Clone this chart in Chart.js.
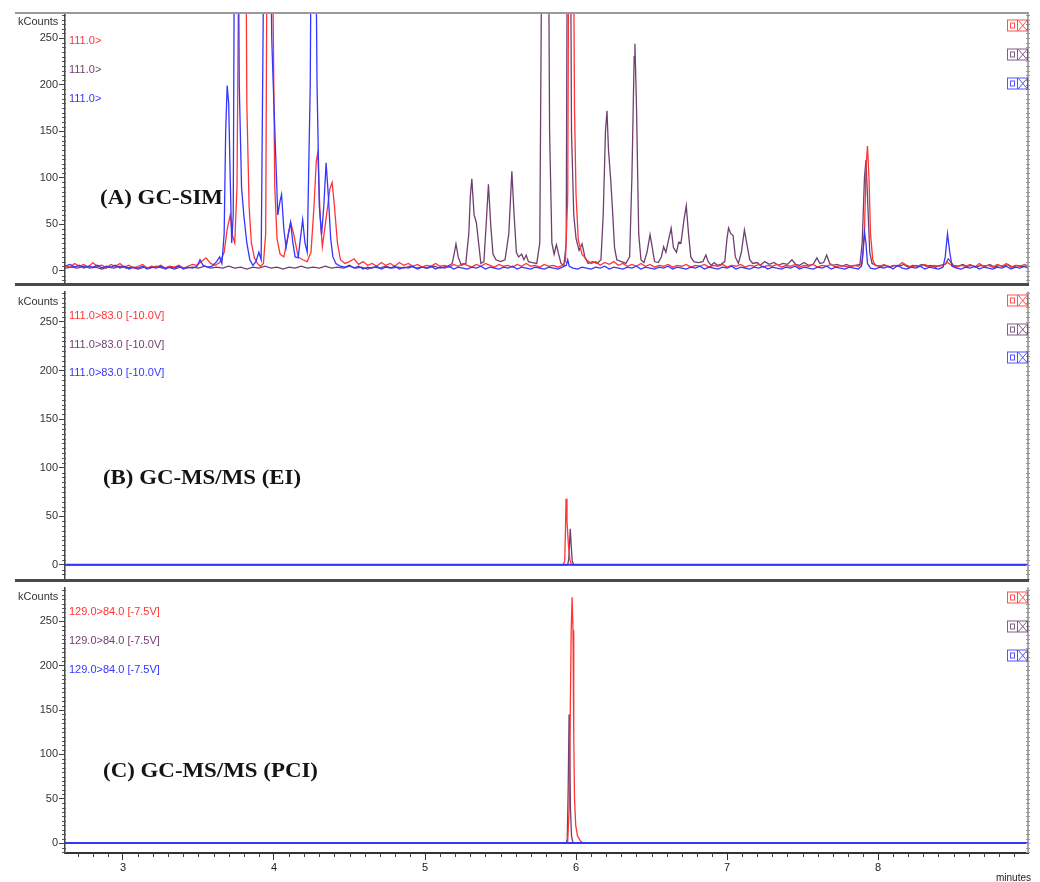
<!DOCTYPE html>
<html><head><meta charset="utf-8">
<script src="https://cdn.jsdelivr.net/npm/chart.js@4.4.1/dist/chart.umd.min.js"></script>
<style>
html,body{margin:0;padding:0;background:#fff;width:1040px;height:882px;overflow:hidden;position:relative}
canvas{position:absolute;left:0}
</style></head><body>
<canvas id="cA" width="1040" height="292" style="top:0px"></canvas>
<canvas id="cB" width="1040" height="304" style="top:284px"></canvas>
<canvas id="cC" width="1040" height="302" style="top:580px"></canvas>
<script>
// ---------- data ----------
const xTicks = [3, 4, 5, 6, 7, 8];
const yTicks = [0, 50, 100, 150, 200, 250];
const simLabels = ['111.0>', '111.0>', '111.0>'];
const eiLabels = ['111.0>83.0 [-10.0V]', '111.0>83.0 [-10.0V]', '111.0>83.0 [-10.0V]'];
const pciLabels = ['129.0>84.0 [-7.5V]', '129.0>84.0 [-7.5V]', '129.0>84.0 [-7.5V]'];
const panelTitles = ['(A) GC-SIM', '(B) GC-MS/MS (EI)', '(C) GC-MS/MS (PCI)'];

// (A) GC-SIM  [minutes, kCounts]
const simRed = [[2.616,6],[2.65,4],[2.68,8],[2.71,5],[2.74,7],[2.77,4],[2.80,9],[2.83,5],[2.86,6],[2.89,3],[2.92,7],[2.95,5],[2.98,8],[3.01,4],[3.04,6],[3.07,3],[3.10,5],[3.13,7],[3.16,3],[3.19,5],[3.22,4],[3.25,6],[3.28,3],[3.31,5],[3.34,4],[3.37,6],[3.40,3],[3.43,5],[3.46,7],[3.49,6],[3.52,10],[3.55,14],[3.58,8],[3.61,6],[3.64,9],[3.67,20],[3.69,45],[3.71,60],[3.725,38],[3.74,30],[3.755,90],[3.77,420],[3.79,650],[3.81,500],[3.82,180],[3.835,70],[3.85,30],[3.87,14],[3.89,8],[3.91,5],[3.93,8],[3.945,40],[3.955,400],[3.975,650],[3.99,350],[4.005,90],[4.02,35],[4.04,18],[4.065,15],[4.09,35],[4.11,52],[4.13,40],[4.16,15],[4.19,12],[4.22,10],[4.245,20],[4.265,70],[4.28,118],[4.29,127],[4.305,60],[4.32,26],[4.34,50],[4.37,88],[4.385,95],[4.40,70],[4.42,30],[4.44,12],[4.47,8],[4.50,10],[4.53,13],[4.56,7],[4.59,10],[4.62,6],[4.65,8],[4.68,5],[4.71,9],[4.74,6],[4.77,8],[4.80,5],[4.83,9],[4.86,6],[4.89,8],[4.92,5],[4.95,7],[4.98,4],[5.01,6],[5.04,5],[5.07,8],[5.10,5],[5.13,6],[5.16,4],[5.19,7],[5.22,5],[5.25,8],[5.28,6],[5.31,4],[5.34,7],[5.37,5],[5.40,8],[5.43,6],[5.46,4],[5.49,7],[5.52,5],[5.55,6],[5.58,4],[5.61,7],[5.64,5],[5.67,8],[5.70,5],[5.73,6],[5.76,4],[5.79,7],[5.82,5],[5.85,6],[5.88,4],[5.91,6],[5.93,10],[5.945,80],[5.955,500],[5.97,700],[5.98,450],[5.99,174],[6.00,82],[6.015,33],[6.04,18],[6.07,12],[6.10,8],[6.13,10],[6.16,6],[6.19,9],[6.22,7],[6.25,10],[6.28,6],[6.31,8],[6.34,5],[6.37,7],[6.40,5],[6.43,8],[6.46,5],[6.49,7],[6.52,4],[6.55,6],[6.58,5],[6.61,7],[6.64,4],[6.67,6],[6.70,5],[6.73,7],[6.76,4],[6.79,6],[6.82,5],[6.85,7],[6.88,4],[6.91,6],[6.94,5],[6.97,7],[7.00,4],[7.03,6],[7.06,5],[7.09,7],[7.12,4],[7.15,6],[7.18,5],[7.21,7],[7.24,4],[7.27,6],[7.30,5],[7.33,7],[7.36,4],[7.39,6],[7.42,5],[7.45,7],[7.48,4],[7.51,6],[7.54,5],[7.57,7],[7.60,4],[7.63,6],[7.66,5],[7.69,7],[7.72,4],[7.75,6],[7.78,5],[7.81,4],[7.84,6],[7.87,5],[7.895,8],[7.91,40],[7.92,110],[7.93,134],[7.94,100],[7.95,40],[7.965,12],[7.98,6],[8.01,5],[8.04,7],[8.07,4],[8.10,6],[8.13,5],[8.16,9],[8.19,6],[8.22,4],[8.25,6],[8.28,5],[8.31,7],[8.34,4],[8.37,6],[8.40,5],[8.43,6],[8.46,9],[8.49,6],[8.52,4],[8.55,6],[8.58,5],[8.61,7],[8.64,4],[8.67,8],[8.70,5],[8.73,6],[8.76,4],[8.79,7],[8.82,5],[8.85,8],[8.88,4],[8.91,6],[8.94,5],[8.97,7],[8.993,5]];
const simPurple = [[2.616,3],[2.66,4],[2.70,3],[2.74,5],[2.78,3],[2.82,4],[2.86,2],[2.90,4],[2.94,3],[2.98,5],[3.02,3],[3.06,4],[3.10,2],[3.14,4],[3.18,3],[3.22,5],[3.26,3],[3.30,4],[3.34,2],[3.38,4],[3.42,3],[3.46,4],[3.50,3],[3.54,5],[3.58,3],[3.62,4],[3.66,3],[3.70,5],[3.74,3],[3.78,4],[3.82,2],[3.86,4],[3.90,3],[3.94,5],[3.98,3],[4.02,4],[4.06,2],[4.10,4],[4.14,3],[4.18,5],[4.22,3],[4.26,4],[4.30,3],[4.34,5],[4.38,3],[4.42,4],[4.46,3],[4.50,5],[4.54,3],[4.58,4],[4.62,2],[4.66,4],[4.70,3],[4.74,5],[4.78,3],[4.82,4],[4.86,3],[4.90,5],[4.94,3],[4.98,4],[5.02,3],[5.06,5],[5.10,3],[5.15,5],[5.18,8],[5.195,20],[5.205,29],[5.22,15],[5.24,6],[5.27,8],[5.29,40],[5.30,80],[5.31,99],[5.325,60],[5.34,52],[5.355,30],[5.37,8],[5.39,10],[5.405,50],[5.42,93],[5.435,50],[5.45,18],[5.47,12],[5.50,10],[5.53,12],[5.555,40],[5.575,107],[5.59,60],[5.605,20],[5.62,15],[5.64,18],[5.655,12],[5.67,17],[5.685,10],[5.71,9],[5.74,8],[5.76,30],[5.775,400],[5.79,700],[5.81,600],[5.825,150],[5.84,30],[5.855,18],[5.87,28],[5.885,18],[5.90,8],[5.92,6],[5.935,30],[5.945,500],[5.96,500],[5.97,150],[5.985,60],[6.00,35],[6.02,22],[6.04,29],[6.06,14],[6.08,8],[6.11,10],[6.14,8],[6.165,12],[6.18,60],[6.195,150],[6.205,172],[6.215,130],[6.23,97],[6.24,70],[6.255,25],[6.27,12],[6.30,10],[6.33,8],[6.355,15],[6.37,100],[6.385,230],[6.39,244],[6.40,180],[6.415,40],[6.43,12],[6.45,9],[6.47,20],[6.49,39],[6.505,25],[6.52,10],[6.545,9],[6.565,15],[6.58,26],[6.595,20],[6.615,35],[6.63,46],[6.645,25],[6.665,20],[6.68,31],[6.695,30],[6.715,55],[6.73,70],[6.745,40],[6.76,15],[6.78,10],[6.81,9],[6.84,10],[6.86,17],[6.875,10],[6.895,6],[6.915,9],[6.935,6],[6.96,7],[6.985,10],[7.00,35],[7.01,46],[7.025,40],[7.04,38],[7.055,15],[7.075,8],[7.095,20],[7.115,44],[7.13,30],[7.15,12],[7.17,8],[7.20,9],[7.22,6],[7.25,10],[7.28,7],[7.31,9],[7.34,6],[7.37,8],[7.40,7],[7.43,12],[7.455,7],[7.48,6],[7.51,9],[7.54,6],[7.57,7],[7.595,14],[7.615,8],[7.64,9],[7.66,17],[7.68,8],[7.70,6],[7.73,7],[7.76,5],[7.79,7],[7.82,5],[7.85,6],[7.88,7],[7.895,30],[7.91,100],[7.92,119],[7.93,80],[7.945,20],[7.96,8],[7.99,6],[8.02,5],[8.05,6],[8.08,4],[8.11,6],[8.14,5],[8.17,7],[8.20,4],[8.23,6],[8.26,5],[8.29,7],[8.32,5],[8.35,6],[8.38,4],[8.41,6],[8.445,7],[8.465,13],[8.48,10],[8.50,6],[8.53,5],[8.56,7],[8.59,5],[8.62,6],[8.65,4],[8.68,6],[8.71,5],[8.74,7],[8.77,4],[8.80,6],[8.83,5],[8.86,7],[8.89,4],[8.92,6],[8.95,5],[8.993,4]];
const simBlue = [[2.616,5],[2.65,7],[2.68,4],[2.71,6],[2.74,3],[2.77,5],[2.80,4],[2.83,6],[2.86,3],[2.89,5],[2.92,4],[2.95,6],[2.98,3],[3.01,5],[3.04,2],[3.07,4],[3.10,3],[3.13,5],[3.16,2],[3.19,4],[3.22,3],[3.25,5],[3.28,2],[3.31,4],[3.34,3],[3.37,5],[3.40,2],[3.43,4],[3.46,3],[3.49,5],[3.51,12],[3.53,6],[3.56,4],[3.59,5],[3.62,10],[3.64,15],[3.655,8],[3.67,40],[3.68,150],[3.69,199],[3.70,180],[3.71,100],[3.72,30],[3.73,60],[3.74,450],[3.755,600],[3.77,200],[3.785,90],[3.80,60],[3.82,30],[3.84,12],[3.86,6],[3.88,10],[3.90,20],[3.915,12],[3.93,300],[3.945,600],[3.96,500],[3.975,400],[3.985,250],[3.995,200],[4.01,130],[4.025,60],[4.04,75],[4.05,82],[4.065,45],[4.08,25],[4.095,40],[4.11,52],[4.125,30],[4.14,15],[4.16,14],[4.175,35],[4.19,55],[4.205,30],[4.22,20],[4.24,200],[4.255,600],[4.27,500],[4.285,200],[4.30,70],[4.315,39],[4.33,70],[4.345,116],[4.36,80],[4.375,35],[4.39,15],[4.41,8],[4.44,5],[4.47,4],[4.50,6],[4.53,3],[4.56,5],[4.59,2],[4.62,4],[4.65,3],[4.68,5],[4.71,2],[4.74,4],[4.77,3],[4.80,5],[4.83,2],[4.86,4],[4.89,3],[4.92,5],[4.95,2],[4.98,4],[5.01,3],[5.04,5],[5.07,2],[5.10,4],[5.13,3],[5.16,5],[5.19,2],[5.22,4],[5.25,3],[5.28,2],[5.31,4],[5.34,3],[5.37,5],[5.40,2],[5.43,4],[5.46,3],[5.49,2],[5.52,4],[5.55,3],[5.58,5],[5.61,2],[5.64,4],[5.67,3],[5.70,2],[5.73,4],[5.76,3],[5.79,2],[5.82,4],[5.85,3],[5.88,2],[5.91,4],[5.935,6],[5.945,12],[5.955,5],[5.98,3],[6.01,2],[6.04,4],[6.07,3],[6.10,2],[6.13,4],[6.16,3],[6.19,5],[6.22,2],[6.25,4],[6.28,3],[6.31,2],[6.34,4],[6.37,3],[6.40,5],[6.43,2],[6.46,4],[6.49,3],[6.52,2],[6.55,4],[6.58,3],[6.61,5],[6.64,2],[6.67,4],[6.70,3],[6.73,2],[6.76,4],[6.79,3],[6.82,5],[6.85,2],[6.88,4],[6.91,3],[6.94,2],[6.97,4],[7.00,3],[7.03,5],[7.06,2],[7.09,4],[7.12,3],[7.15,2],[7.18,4],[7.21,3],[7.24,5],[7.27,2],[7.30,4],[7.33,3],[7.36,2],[7.39,4],[7.42,3],[7.45,5],[7.48,2],[7.51,4],[7.54,3],[7.57,2],[7.60,4],[7.63,3],[7.66,5],[7.69,2],[7.72,4],[7.75,3],[7.78,2],[7.81,4],[7.84,3],[7.87,2],[7.89,5],[7.90,20],[7.91,42],[7.92,30],[7.93,8],[7.95,3],[7.98,2],[8.01,4],[8.04,3],[8.07,5],[8.10,2],[8.13,6],[8.16,3],[8.19,2],[8.22,4],[8.25,3],[8.28,5],[8.31,2],[8.34,4],[8.37,3],[8.40,2],[8.43,4],[8.445,15],[8.46,40],[8.475,20],[8.49,5],[8.52,3],[8.55,2],[8.58,4],[8.61,3],[8.64,5],[8.67,2],[8.70,4],[8.73,3],[8.76,2],[8.79,4],[8.82,3],[8.85,5],[8.88,2],[8.91,4],[8.94,3],[8.97,5],[8.993,3]];

// (B) GC-MS/MS (EI)
const eiRed = [[2.616,0],[5.915,0],[5.925,4],[5.93,35],[5.934,68],[5.94,45],[5.95,20],[5.96,5],[5.97,0],[8.993,0]];
const eiPurple = [[2.616,0],[5.945,0],[5.952,6],[5.958,25],[5.962,37],[5.968,20],[5.975,4],[5.985,0],[8.993,0]];
const eiBlue = [[2.616,0],[8.993,0]];

// (C) GC-MS/MS (PCI)
const pciRed = [[2.616,0],[5.935,0],[5.945,2],[5.955,40],[5.962,150],[5.968,240],[5.974,277],[5.98,240],[5.985,120],[5.99,50],[5.998,20],[6.01,8],[6.03,2],[6.05,0],[8.993,0]];
const pciPurple = [[2.616,0],[5.935,0],[5.942,5],[5.948,60],[5.954,145],[5.958,120],[5.963,40],[5.97,8],[5.98,0],[8.993,0]];
const pciBlue = [[2.616,0],[8.993,0]];

// ---------- styling ----------
const RED = '#ff3434', PURPLE = '#6f3f70', BLUE = '#3535ff';
const FONT = '"Liberation Sans", Arial, sans-serif';

const decor = {
  id: 'decor',
  afterDraw(chart, args, o) {
    const ctx = chart.ctx, a = chart.chartArea, ys = chart.scales.y, off = o.offset;
    const line = (x1, y1, x2, y2) => { ctx.beginPath(); ctx.moveTo(x1, y1); ctx.lineTo(x2, y2); ctx.stroke(); };
    ctx.save();
    ctx.strokeStyle = '#8c8c8c'; ctx.lineWidth = 1.5;
    line(a.right, a.top, a.right, a.bottom);
    ctx.lineWidth = 1;
    for (let v = Math.ceil(ys.min / 5) * 5; v <= ys.max; v += 5) {
      const y = Math.round(ys.getPixelForValue(v)) + 0.5;
      if (v % 50 !== 0) { ctx.strokeStyle = '#555'; line(a.left - 3, y, a.left + 1, y); }
      ctx.strokeStyle = '#999'; line(a.right - 2, y, a.right + 2, y);
    }
    if (o.xMinor) {
      const xs = chart.scales.x;
      ctx.strokeStyle = '#444'; ctx.lineWidth = 1;
      for (let k = Math.ceil(xs.min * 10); k <= xs.max * 10; k++) {
        if (k % 10 === 0) continue;
        const x = Math.round(xs.getPixelForValue(k / 10)) + 0.5;
        line(x, a.bottom, x, a.bottom + 4);
      }
      ctx.fillStyle = '#222'; ctx.font = '10px ' + FONT; ctx.textAlign = 'right'; ctx.textBaseline = 'middle';
      ctx.fillText('minutes', 1031, 878 - off);
    }
    if (o.topLine) { ctx.strokeStyle = '#9a9a9a'; ctx.lineWidth = 2; line(15, a.top, a.right + 1, a.top); }
    if (o.bottomSep) { ctx.strokeStyle = '#4a4a4a'; ctx.lineWidth = 3; line(15, a.bottom, a.right + 1, a.bottom); }
    ctx.font = '11px ' + FONT; ctx.fillStyle = '#333'; ctx.textAlign = 'left'; ctx.textBaseline = 'middle';
    ctx.fillText('kCounts', 18, o.kY - off);
    chart.data.datasets.forEach((d, i) => {
      ctx.fillStyle = d.borderColor; ctx.font = '11px ' + FONT; ctx.textAlign = 'left';
      ctx.fillText(d.label, 69, o.labelY[i] - off);
      const cy = Math.round(o.iconY[i] - off) + 0.5, x0 = 1007.5;
      ctx.strokeStyle = d.borderColor; ctx.globalAlpha = 0.85; ctx.lineWidth = 1;
      ctx.strokeRect(x0, cy - 5.5, 20, 11);
      line(x0 + 10, cy - 5.5, x0 + 10, cy + 5.5);
      ctx.strokeRect(x0 + 3, cy - 2.5, 4, 5);
      line(x0 + 11, cy - 5, x0 + 19.5, cy + 5); line(x0 + 11, cy + 5, x0 + 19.5, cy - 5);
      ctx.globalAlpha = 1;
    });
    ctx.font = 'bold 20px "Liberation Serif", "Times New Roman", serif';
    ctx.fillStyle = '#141414'; ctx.textAlign = 'left'; ctx.textBaseline = 'middle';
    const w = ctx.measureText(o.title).width;
    ctx.translate(o.titleX, o.titleY - off);
    ctx.scale(o.titleW / w, 1);
    ctx.fillText(o.title, 0, 0);
    ctx.restore();
  }
};

function makeChart(id, labels, series, cfg) {
  const colors = [RED, PURPLE, BLUE];
  const orders = [1, 2, 0];          // lower order is drawn on top: blue on top
  const widths = [1.3, 1.3, cfg.blueWidth];
  return new Chart(document.getElementById(id), {
    type: 'line',
    data: {
      datasets: series.map((s, i) => ({
        label: labels[i], data: s, borderColor: colors[i], borderWidth: widths[i],
        pointRadius: 0, tension: 0, fill: false, order: orders[i]
      }))
    },
    options: {
      responsive: false, animation: false, events: [],
      layout: { padding: { left: 0, right: 12, top: cfg.padTop, bottom: cfg.padBottom } },
      plugins: { legend: { display: false }, tooltip: { enabled: false }, decor: cfg.decor },
      scales: {
        x: {
          type: 'linear', min: 2.616, max: 8.993, display: cfg.showX,
          afterBuildTicks: s => { s.ticks = xTicks.map(v => ({ value: v })); },
          afterFit: s => { s.height = cfg.showX ? 29 : 0; },
          grid: { drawOnChartArea: false, drawTicks: true, tickLength: 7, color: '#333', lineWidth: 1 },
          border: { display: true, color: '#333', width: 2 },
          ticks: { autoSkip: false, maxRotation: 0, padding: 1, color: '#222', font: { size: 11, family: FONT } }
        },
        y: {
          type: 'linear', min: cfg.yMin, max: cfg.yMax, position: 'left',
          afterBuildTicks: s => { s.ticks = yTicks.map(v => ({ value: v })); },
          afterFit: s => { s.width = 65; },
          grid: { drawOnChartArea: false, drawTicks: true, tickLength: 6, color: '#444', lineWidth: 1 },
          border: { display: true, color: '#444', width: 1.5 },
          ticks: { autoSkip: false, padding: 1, color: '#333', font: { size: 11, family: FONT } }
        }
      }
    },
    plugins: [decor]
  });
}

makeChart('cA', simLabels, [simRed, simPurple, simBlue], {
  padTop: 13, padBottom: 5, showX: false, yMin: -14.5, yMax: 277, blueWidth: 1.3,
  decor: { offset: 0, topLine: true, bottomSep: true, kY: 22, labelY: [41, 70, 99], iconY: [25, 54, 83],
           title: panelTitles[0], titleX: 100, titleY: 199, titleW: 123 }
});
makeChart('cB', eiLabels, [eiRed, eiPurple, eiBlue], {
  padTop: 4, padBottom: 5, showX: false, yMin: -16.1, yMax: 281.3, blueWidth: 2,
  decor: { offset: 284, topLine: false, bottomSep: true, kY: 302, labelY: [316, 345, 373], iconY: [300, 329, 357],
           title: panelTitles[1], titleX: 103, titleY: 479, titleW: 198 }
});
makeChart('cC', pciLabels, [pciRed, pciPurple, pciBlue], {
  padTop: 5, padBottom: 0, showX: true, yMin: -11.2, yMax: 288, blueWidth: 2,
  decor: { offset: 580, topLine: false, bottomSep: false, xMinor: true, kY: 597, labelY: [612, 641, 670], iconY: [597, 626, 655],
           title: panelTitles[2], titleX: 103, titleY: 772, titleW: 215 }
});
</script></body></html>
